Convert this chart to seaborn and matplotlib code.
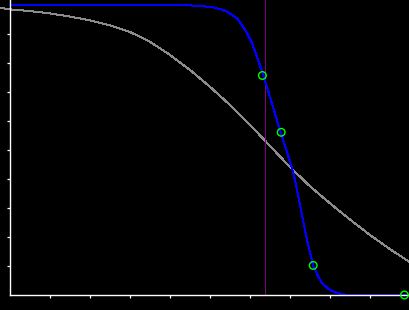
import matplotlib
matplotlib.use("Agg")
import matplotlib.pyplot as plt
import seaborn as sns
import pandas as pd

# Gray (broad) curve
gray_x = [-0.25, 0.0, 0.5, 1.0, 1.5, 2.0, 2.5, 3.0, 3.5, 4.0, 4.5, 5.0, 5.5, 6.0,
          6.5, 7.0, 7.5, 8.0, 8.5, 9.0, 9.5, 10.0]
gray_y = [0.990, 0.985, 0.979, 0.971, 0.960, 0.947, 0.930, 0.907, 0.873, 0.828,
          0.776, 0.718, 0.655, 0.587, 0.514, 0.441, 0.375, 0.316, 0.260, 0.207,
          0.158, 0.113]

# Blue (steep) curve
blue_x = [0.0, 4.25, 4.75, 5.075, 5.325, 5.5, 5.675, 5.8, 5.925, 6.05, 6.175, 6.325, 6.5,
          6.7, 6.85, 7.0, 7.1, 7.225, 7.425, 7.575, 7.7, 7.8, 8.0, 8.2, 8.425, 10.0]
blue_y = [1.0, 1.0, 0.997, 0.992, 0.983, 0.971, 0.954, 0.931, 0.903, 0.869, 0.821, 0.762,
          0.683, 0.590, 0.525, 0.460, 0.412, 0.328, 0.190, 0.103, 0.065, 0.041, 0.017,
          0.006, 0.0, 0.0]

# Observed points
pts_x = [6.31, 6.78, 7.58, 9.86]
pts_y = [0.757, 0.561, 0.102, 0.0]

# Vertical marker
vline_x = 6.38

xticks = [1, 2, 3, 4, 5, 6, 7, 8, 9]
yticks = [0.1, 0.2, 0.3, 0.4, 0.5, 0.6, 0.7, 0.8, 0.9]

sns.set_style("dark", {"axes.facecolor": "black", "figure.facecolor": "black"})

W, H = 410, 310
fig = plt.figure(figsize=(W / 100, H / 100), dpi=100, facecolor="black")
ax = fig.add_axes([0, 15 / H, 1, 295 / H])
ax.set_facecolor("black")

gray_df = pd.DataFrame({"x": gray_x, "y": gray_y})
blue_df = pd.DataFrame({"x": blue_x, "y": blue_y})
pts_df = pd.DataFrame({"x": pts_x, "y": pts_y})

sns.lineplot(data=gray_df, x="x", y="y", ax=ax, color="#8c8c8c", linewidth=0.72,
             antialiased=False, clip_on=False)
ax.axvline(vline_x, color="#800080", linewidth=0.72, antialiased=False)
sns.lineplot(data=blue_df, x="x", y="y", ax=ax, color="#0000ff", linewidth=0.75,
             antialiased=False, clip_on=False)
sns.scatterplot(data=pts_df, x="x", y="y", ax=ax, s=30, facecolor="none",
                edgecolor="#00ff00", linewidth=1.0, marker="o", clip_on=False, zorder=5)

ax.set_xlim(-0.25, 10.0)
ax.set_ylim(0.0, 1.0 + 5 / 290)

for side in ["top", "right"]:
    ax.spines[side].set_visible(False)
ax.spines["left"].set_position(("data", 0))
ax.spines["left"].set_color("white")
ax.spines["left"].set_linewidth(1.0)
ax.spines["bottom"].set_color("white")
ax.spines["bottom"].set_linewidth(1.0)
ax.spines["bottom"].set_bounds(0, 10)

ax.set_xticks(xticks)
ax.set_yticks(yticks)
ax.set_xticklabels([])
ax.set_yticklabels([])
ax.tick_params(axis="both", direction="out", length=2.5, width=0.9, color="white",
               bottom=True, left=True)
ax.grid(False)
ax.set_xlabel("")
ax.set_ylabel("")

fig.savefig("out.png", dpi=100, facecolor="black")
